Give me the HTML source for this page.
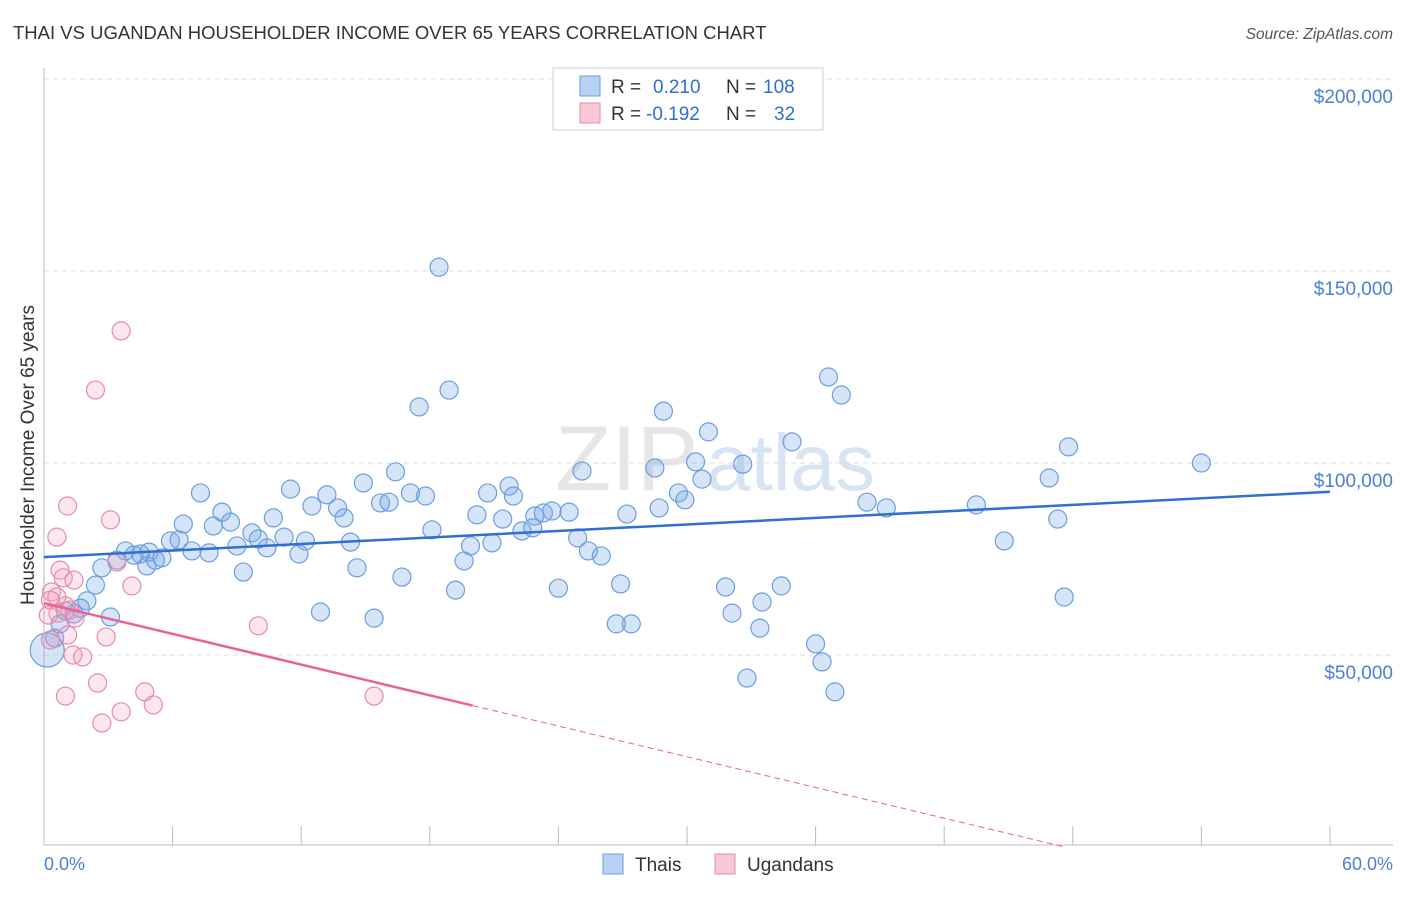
<!DOCTYPE html>
<html><head><meta charset="utf-8"><style>
body{margin:0;background:#fff;font-family:"Liberation Sans",sans-serif;}
svg text{font-family:"Liberation Sans",sans-serif;}
</style></head><body>
<svg id="c" width="1406" height="892">
<text x="13" y="39" font-size="18.5" fill="#333">THAI VS UGANDAN HOUSEHOLDER INCOME OVER 65 YEARS CORRELATION CHART</text>
<text x="1393" y="39" font-size="15.5" fill="#555" font-style="italic" text-anchor="end">Source: ZipAtlas.com</text>
<text x="555" y="490" font-size="92" fill="#e6e6e6" font-family="Liberation Serif">ZIP<tspan fill="#d8e4f4" font-family="Liberation Sans" font-size="80" dx="8">atlas</tspan></text>
<g id="grid"></g><g id="axes"></g><g id="pts"></g><g id="lines"></g>
<text transform="translate(34,455) rotate(-90)" font-size="19" fill="#333" text-anchor="middle">Householder Income Over 65 years</text>
<text x="44" y="870" font-size="18" fill="#4a7fd4">0.0%</text>
<text x="1393" y="870" font-size="18" fill="#4a7fd4" text-anchor="end">60.0%</text>
<g>
<rect x="553" y="68" width="270" height="62" fill="#fff" stroke="#ccc"/>
<rect x="580" y="76" width="20" height="20" fill="#b8d2f2" stroke="#6a9ee0"/>
<rect x="580" y="103" width="20" height="20" fill="#f9c8d8" stroke="#e88aab"/>
<text x="611" y="93" font-size="19" fill="#333">R = </text><text x="653" y="93" font-size="19" fill="#2f6fd0">0.210</text>
<text x="726" y="93" font-size="19" fill="#333">N = </text><text x="763" y="93" font-size="19" fill="#2f6fd0">108</text>
<text x="611" y="120" font-size="19" fill="#333">R = </text><text x="646" y="120" font-size="19" fill="#2f6fd0">-0.192</text>
<text x="726" y="120" font-size="19" fill="#333">N = </text><text x="774" y="120" font-size="19" fill="#2f6fd0">32</text>
</g>
<g>
<rect x="603" y="854" width="20" height="20" fill="#b8d2f2" stroke="#6a9ee0"/>
<text x="635" y="871" font-size="19" fill="#333">Thais</text>
<rect x="715" y="854" width="20" height="20" fill="#f9c8d8" stroke="#e88aab"/>
<text x="747" y="871" font-size="19" fill="#333">Ugandans</text>
</g>
</svg>
<script>
const yTicks=[50000,100000,150000,200000];
const yTickLabels=["$50,000","$100,000","$150,000","$200,000"];
const thaiX=[18.43,18.9,17.5,36.6,37.2,28.9,31.0,34.9,47.8,54.0,30.4,28.5,32.6,25.1,16.4,30.7,46.9,14.9,21.7,7.3,11.5,13.2,17.1,17.8,20.7,21.9,29.6,29.9,38.4,39.3,43.5,12.5,13.7,15.7,16.1,8.3,14.0,10.7,20.2,21.4,22.9,23.3,23.7,24.5,27.2,28.7,47.3,6.5,7.9,8.7,18.1,22.3,22.8,5.9,6.3,9.7,10.0,11.2,12.2,14.3,9.0,10.4,19.9,20.9,24.9,44.8,3.8,4.2,4.9,4.5,6.9,7.7,11.9,25.4,26.0,3.4,4.8,5.2,5.5,19.6,2.7,14.6,9.3,16.7,2.4,24.0,26.9,31.8,34.4,19.2,2.0,47.6,33.5,1.7,1.0,1.4,12.9,32.1,3.1,15.4,26.7,27.4,33.4,0.75,0.5,0.15,36.0,36.3,32.8,36.9];
const thaiY=[151.0,119.0,114.6,122.4,117.7,113.5,108.1,105.5,104.2,100,100.3,98.7,99.7,97.9,97.7,95.8,96.1,94.8,94.0,92.2,93.2,91.7,92.2,91.4,92.2,91.4,92.2,90.4,89.8,88.3,89.1,88.8,88.3,89.6,89.8,87.2,85.7,85.7,86.5,85.4,86.2,87.0,87.5,87.2,86.7,88.3,85.4,84.1,83.6,84.6,82.6,82.3,83.1,79.7,80.0,81.8,80.2,80.7,79.7,79.4,78.4,77.9,78.4,79.2,80.5,79.7,77.1,76.0,76.8,76.3,77.1,76.6,76.3,77.1,75.8,74.7,73.2,74.7,75.3,74.5,72.7,72.7,71.6,70.3,68.2,67.4,68.5,67.7,68.0,66.9,64.1,65.1,63.8,62.2,61.5,60.7,61.2,60.9,59.9,59.6,58.1,58.1,57.0,58.1,54.4,51.3,52.9,48.2,44.0,40.4];
const ugX=[3.6,2.4,1.1,3.1,0.6,3.4,0.75,0.9,1.4,4.1,0.35,0.6,0.3,1.0,1.2,0.65,1.45,0.2,10.0,1.1,2.9,0.3,1.35,1.8,2.5,1.0,4.7,15.4,5.1,3.6,2.7];
const ugY=[134.4,119.0,88.8,85.2,80.7,74.2,72.1,70.1,69.5,68.0,66.4,65.1,64.3,62.8,61.7,60.9,59.6,60.4,57.6,55.2,54.7,53.9,50.0,49.5,42.7,39.3,40.4,39.3,37.0,35.2,32.3];
const thaiTrend=[75.5,92.5]; // value at 0% and 60%
const ugTrend=[63.5,-16.5]; // value at 0% and 60%
const ugSolidEnd=20;
const NS='http://www.w3.org/2000/svg';
const L=44,R=1330,B=847;
function sx(p){return L+(R-L)*p/60;}
function sy(v){return 463-(v-100000)*192/50000;}
function mk(tag,attrs,parent){const e=document.createElementNS(NS,tag);for(const k in attrs)e.setAttribute(k,attrs[k]);document.getElementById(parent).appendChild(e);return e;}
yTicks.forEach((t,i)=>{
 const g=mk('line',{x1:L,x2:1393,y1:sy(t),y2:sy(t),stroke:'#ddd','stroke-dasharray':'5,4'},'grid');
 
 
 const tx=mk('text',{x:1393,y:sy(t)+24,'font-size':19,fill:'#4a7fd4','text-anchor':'end'},'grid');
 tx.textContent=yTickLabels[i];
 
 
});
let a=mk('line',{x1:L,x2:L,y1:68,y2:845,stroke:'#bbb'},'axes');


a=mk('line',{x1:L,x2:1393,y1:845,y2:845,stroke:'#bbb'},'axes');


for(let i=1;i<=10;i++){const t=mk('line',{x1:sx(i*6),x2:sx(i*6),y1:826,y2:845,stroke:'#bbb'},'axes');
 
 }
thaiX.forEach((x,i)=>{const big=(i==thaiX.length-5);const c=mk('circle',{cx:sx(x),cy:sy(thaiY[i]*1000),r:big?17:9,fill:'rgba(120,165,230,0.3)',stroke:'#6a9ee0','stroke-width':1.2},'pts');
 
 });
ugX.forEach((x,i)=>{const c=mk('circle',{cx:sx(x),cy:sy(ugY[i]*1000),r:9,fill:'rgba(245,160,190,0.25)',stroke:'#e88aab','stroke-width':1.2},'pts');
 
 });
const tl=mk('line',{x1:sx(0),y1:sy(thaiTrend[0]*1000),x2:sx(60),y2:sy(thaiTrend[1]*1000),stroke:'#2f6fd0','stroke-width':2.5},'lines');


function ugv(p){return ugTrend[0]+(ugTrend[1]-ugTrend[0])*p/60;}
const ul=mk('line',{x1:sx(0),y1:sy(ugv(0)*1000),x2:sx(ugSolidEnd),y2:sy(ugv(ugSolidEnd)*1000),stroke:'#e8638f','stroke-width':2.5},'lines');


const pEnd=60*(ugTrend[0])/(ugTrend[0]-ugTrend[1]);
const ud=mk('line',{x1:sx(ugSolidEnd),y1:sy(ugv(ugSolidEnd)*1000),x2:sx(pEnd),y2:sy(0),stroke:'#e8638f','stroke-width':1,'stroke-dasharray':'6,4'},'lines');


</script>
</body></html>
